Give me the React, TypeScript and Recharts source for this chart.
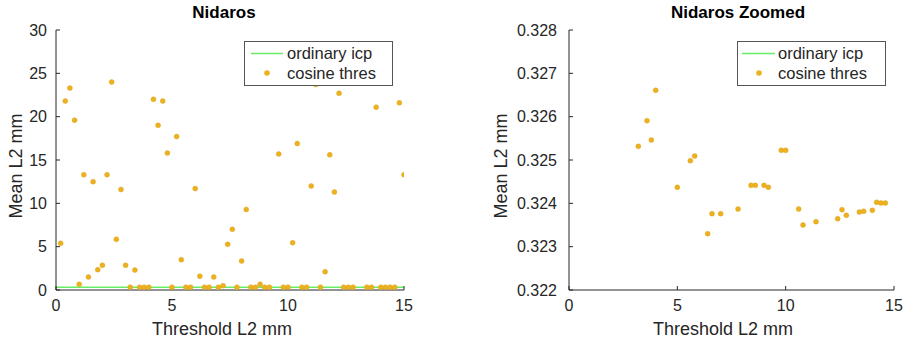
// Nidaros threshold sweep - two MATLAB-style scatter panels (full + zoomed)
import {
  ComposedChart,
  Scatter,
  Line,
  XAxis,
  YAxis,
  Legend,
} from "recharts";

// threshold values (mm); 9.4, 13.0 and 13.2 have no sample in the source
const THRESHOLDS = [
  0.2, 0.4, 0.6, 0.8, 1.0, 1.2, 1.4, 1.6, 1.8, 2.0,
  2.2, 2.4, 2.6, 2.8, 3.0, 3.2, 3.4, 3.6, 3.8, 4.0,
  4.2, 4.4, 4.6, 4.8, 5.0, 5.2, 5.4, 5.6, 5.8, 6.0,
  6.2, 6.4, 6.6, 6.8, 7.0, 7.2, 7.4, 7.6, 7.8, 8.0,
  8.2, 8.4, 8.6, 8.8, 9.0, 9.2, 9.6, 9.8, 10.0, 10.2,
  10.4, 10.6, 10.8, 11.0, 11.2, 11.4, 11.6, 11.8, 12.0, 12.2,
  12.4, 12.6, 12.8, 13.4, 13.6, 13.8, 14.0, 14.2, 14.4, 14.6,
  14.8, 15.0,
];

// mean L2 error (mm) for the cosine threshold run
const COSINE_MEAN_L2 = [
  5.39, 21.8, 23.3, 19.6, 0.66, 13.3, 1.5, 12.5, 2.35, 2.85,
  13.3, 24.0, 5.85, 11.6, 2.85, 0.325315, 2.3, 0.325908, 0.32546, 0.326608,
  22.0, 19.0, 21.8, 15.8, 0.324369, 17.7, 3.5, 0.324985, 0.325092, 11.7,
  1.6, 0.3233, 0.323762, 1.5, 0.323762, 0.5, 5.27, 7.0, 0.323869, 3.35,
  9.3, 0.324415, 0.324415, 0.66, 0.324415, 0.324369, 15.7, 0.325223, 0.325223, 5.46,
  16.9, 0.323869, 0.3235, 12.0, 23.7, 0.323577, 2.1, 15.6, 11.3, 22.7,
  0.323646, 0.323854, 0.323723, 0.3238, 0.323815, 21.1, 0.323838, 0.324023, 0.324008, 0.324008,
  21.6, 13.3,
];

// ordinary icp baseline (constant over thresholds)
const ICP_X = [0, 15];
const ICP_MEAN_L2 = [0.321, 0.321];

const X_TICKS = [0, 5, 10, 15];
const Y_TICKS_FULL = [0, 5, 10, 15, 20, 25, 30];
const Y_TICKS_ZOOM = [0.322, 0.323, 0.324, 0.325, 0.326, 0.327, 0.328];

const INK = "#262626";
const DOT = "#EDB120";
const ICP_GREEN = "#66EE66";
const FONT = "'Liberation Sans', Arial, Helvetica, sans-serif";

const cosineData = THRESHOLDS.map((x, i) => ({ x, y: COSINE_MEAN_L2[i] }));
const icpData = ICP_X.map((x, i) => ({ x, y: ICP_MEAN_L2[i] }));

const Dot = (p: any) => (
  <circle cx={p.cx} cy={p.cy} r={2.5} fill={DOT} stroke="#D9A21A" strokeWidth={0.4} />
);

function LegendBox({ lineX, dotX, textX }: { lineX: [number, number]; dotX: number; textX: number }) {
  return (
    <svg width={149} height={45} style={{ display: "block" }}>
      <rect x={0.5} y={0.5} width={148} height={44} fill="#fff" stroke="#555" strokeWidth={1} />
      <line x1={lineX[0]} x2={lineX[1]} y1={12.5} y2={12.5} stroke={ICP_GREEN} strokeWidth={1.5} />
      <circle cx={dotX} cy={32} r={2.8} fill={DOT} />
      <text x={textX} y={18} fontSize={16.5} fill={INK} fontFamily={FONT}>ordinary icp</text>
      <text x={textX} y={38} fontSize={16.5} fill={INK} fontFamily={FONT}>cosine thres</text>
    </svg>
  );
}

interface PanelProps {
  title: string;
  titleX: number;
  yDomain: [number, number];
  yTicks: number[];
  yFmt: (v: number) => string;
  yAxisWidth: number;
  yTickMargin: number;
  yLabelX: number;
  xLabelX: number;
  marginRight: number;
  legendLeft: number;
  legend: { lineX: [number, number]; dotX: number; textX: number };
  zoomed?: boolean;
}

function Panel(p: PanelProps) {
  const [lo, hi] = p.yDomain;
  const pts = p.zoomed ? cosineData.filter((d) => d.y >= lo && d.y <= hi) : cosineData;
  const icp = p.zoomed ? icpData.filter((d) => d.y >= lo && d.y <= hi) : icpData;
  return (
    <ComposedChart
      width={453}
      height={343}
      margin={{ top: 30, right: p.marginRight, bottom: 0, left: 0 }}
      style={{ fontFamily: FONT }}
    >
      <XAxis
        type="number"
        dataKey="x"
        domain={[0, 15]}
        ticks={X_TICKS}
        height={53}
        stroke={INK}
        tickSize={-4}
        tickMargin={14}
        tick={{ fill: INK, fontSize: 16, fontFamily: FONT }}
        allowDataOverflow
        label={{
          content: () => (
            <text x={p.xLabelX} y={335} textAnchor="middle" fontSize={18} fill={INK} fontFamily={FONT}>
              Threshold L2 mm
            </text>
          ),
        }}
      />
      <YAxis
        type="number"
        dataKey="y"
        domain={p.yDomain}
        ticks={p.yTicks}
        tickFormatter={p.yFmt}
        width={p.yAxisWidth}
        stroke={INK}
        tickSize={-4}
        tickMargin={p.yTickMargin}
        tick={{ fill: INK, fontSize: 16, fontFamily: FONT }}
        allowDataOverflow
        label={{
          content: () => (
            <text
              x={p.yLabelX}
              y={166}
              textAnchor="middle"
              fontSize={18}
              fill={INK}
              fontFamily={FONT}
              transform={`rotate(-90 ${p.yLabelX} 166)`}
            >
              Mean L2 mm
            </text>
          ),
        }}
      />
      <Line
        data={icp}
        dataKey="y"
        stroke={ICP_GREEN}
        strokeWidth={1.5}
        dot={false}
        isAnimationActive={false}
        legendType="none"
      />
      <Scatter data={pts} dataKey="y" shape={Dot} isAnimationActive={false} />
      <Legend
        layout="horizontal"
        verticalAlign="middle"
        align="center"
        content={() => <LegendBox {...p.legend} />}
        wrapperStyle={{ position: "absolute", left: p.legendLeft, top: 41, width: 149, height: 45 }}
      />
      <text
        x={p.titleX}
        y={18}
        textAnchor="middle"
        fontSize={17}
        fontWeight="bold"
        fill="#000"
        fontFamily={FONT}
      >
        {p.title}
      </text>
    </ComposedChart>
  );
}

export default function App() {
  return (
    <div style={{ position: "absolute", left: 0, top: 0, width: 906, height: 343, background: "#fff" }}>
      <div style={{ position: "absolute", left: 0, top: 0 }}>
        <Panel
          title="Nidaros"
          titleX={224}
          yDomain={[0, 30]}
          yTicks={Y_TICKS_FULL}
          yFmt={(v) => `${v}`}
          yAxisWidth={56}
          yTickMargin={13}
          yLabelX={22}
          xLabelX={222}
          marginRight={49}
          legendLeft={244}
          legend={{ lineX: [7, 39], dotX: 23, textX: 43 }}
        />
      </div>
      <div style={{ position: "absolute", left: 453, top: 0 }}>
        <Panel
          title="Nidaros Zoomed"
          titleX={285}
          yDomain={[0.322, 0.328]}
          yTicks={Y_TICKS_ZOOM}
          yFmt={(v) => v.toFixed(3)}
          yAxisWidth={116}
          yTickMargin={16}
          yLabelX={54}
          xLabelX={270}
          marginRight={12}
          legendLeft={284}
          legend={{ lineX: [5, 38], dotX: 22, textX: 41 }}
          zoomed
        />
      </div>
    </div>
  );
}
